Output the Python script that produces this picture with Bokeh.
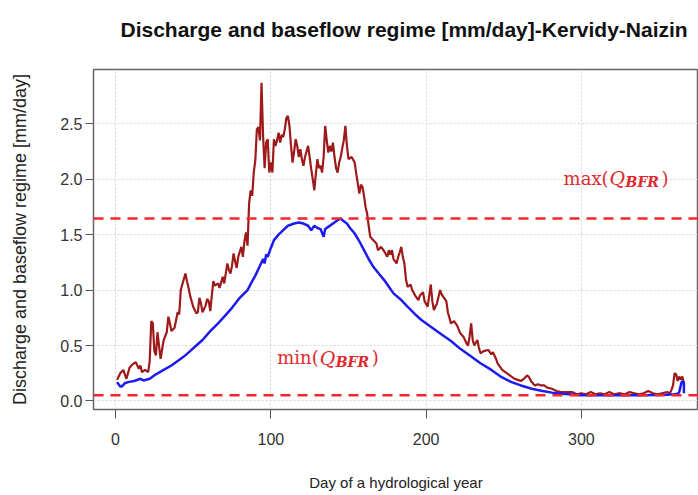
from bokeh.plotting import figure
from bokeh.models import Span, Label, FixedTicker, NumeralTickFormatter, Range1d, Title
from bokeh.embed import file_html
from bokeh.resources import INLINE

TITLE = "Discharge and baseflow regime [mm/day]-Kervidy-Naizin"
X_LABEL = "Day of a hydrological year"
Y_LABEL = "Discharge and baseflow regime [mm/day]"
X_TICKS = [0, 100, 200, 300]
Y_TICKS = [0.0, 0.5, 1.0, 1.5, 2.0, 2.5]

# Discharge regime (mm/day)
discharge_day = [1, 3, 5, 7, 9, 11, 13, 15, 16, 17, 19, 21, 22, 23, 24, 25, 26, 27, 28, 29,
                 31, 33, 34, 35, 36, 38, 40, 41, 42, 44, 45, 46, 47, 48, 50, 52, 53, 54, 55, 56,
                 58, 59, 60, 61, 62, 63, 64, 66, 67, 69, 70, 72, 73, 74, 75, 76, 77, 78, 79, 81,
                 82, 83, 84, 85, 86, 87, 88, 89, 90, 91, 92, 93, 94, 95, 96, 97, 98, 99, 100, 101,
                 102, 103, 104, 105, 106, 107, 108, 109, 110, 111, 112, 113, 114, 115, 116, 117, 118, 119, 120, 121,
                 122, 124, 125, 126, 127, 128, 129, 130, 131, 132, 133, 134, 135, 136, 137, 138, 139, 140, 141, 142,
                 143, 144, 145, 146, 147, 148, 149, 150, 152, 154, 155, 157, 158, 159, 160, 161, 162, 163, 164, 166,
                 168, 169, 171, 173, 175, 176, 177, 178, 179, 181, 182, 183, 184, 185, 186, 187, 188, 190, 191, 193,
                 195, 196, 198, 199, 201, 203, 204, 205, 207, 209, 210, 212, 213, 214, 216, 218, 220, 222, 224, 225,
                 226, 227, 228, 229, 230, 231, 233, 234, 235, 237, 240, 242, 243, 245, 246, 248, 249, 251, 253, 255,
                 257, 259, 261, 263, 265, 266, 268, 270, 272, 274, 276, 278, 281, 284, 287, 290, 294, 297, 300, 303,
                 306, 309, 312, 315, 318, 321, 325, 328, 331, 334, 337, 340, 343, 346, 349, 352, 355, 357, 358, 359,
                 360, 361, 362, 363, 364, 365, 366]
discharge_val = [0.19, 0.25, 0.28, 0.20, 0.30, 0.33, 0.35, 0.29, 0.32, 0.26, 0.28, 0.26, 0.36, 0.72, 0.70, 0.45, 0.41, 0.62, 0.50, 0.38,
                 0.55, 0.62, 0.76, 0.70, 0.63, 0.66, 0.80, 0.78, 1.00, 1.10, 1.15, 1.08, 1.02, 0.95, 0.85, 0.79, 0.80, 0.93, 0.88, 0.80,
                 0.86, 0.92, 0.90, 0.81, 0.95, 1.08, 1.04, 1.06, 1.02, 1.12, 1.06, 1.24, 1.18, 1.15, 1.22, 1.33, 1.26, 1.20, 1.30, 1.39,
                 1.30, 1.44, 1.52, 1.40, 1.78, 1.90, 1.85, 2.06, 2.17, 2.45, 2.47, 2.35, 2.87, 2.39, 2.10, 2.33, 2.36, 2.06, 2.15, 2.06,
                 2.36, 2.30, 2.35, 2.42, 2.33, 2.40, 2.38, 2.45, 2.55, 2.57, 2.48, 2.30, 2.15, 2.25, 2.36, 2.30, 2.20, 2.27, 2.18, 2.12,
                 2.20, 2.30, 2.20, 2.09, 2.00, 1.90, 2.05, 2.18, 2.10, 2.12, 2.06, 2.20, 2.48, 2.35, 2.24, 2.30, 2.25, 2.33, 2.20, 2.10,
                 2.06, 2.15, 2.20, 2.28, 2.35, 2.48, 2.30, 2.18, 2.20, 2.15, 2.05, 1.87, 1.95, 1.93, 1.85, 1.75, 1.69, 1.58, 1.48, 1.45,
                 1.42, 1.36, 1.39, 1.35, 1.30, 1.36, 1.32, 1.36, 1.28, 1.24, 1.30, 1.34, 1.39, 1.30, 1.24, 1.10, 1.03, 1.05, 1.00, 0.95,
                 0.91, 0.95, 0.98, 0.90, 0.85, 1.05, 0.90, 0.82, 0.88, 1.00, 0.96, 0.92, 0.90, 0.80, 0.70, 0.72, 0.68, 0.61, 0.58, 0.55,
                 0.52, 0.50, 0.58, 0.70, 0.55, 0.50, 0.55, 0.48, 0.43, 0.45, 0.46, 0.42, 0.44, 0.38, 0.34, 0.30, 0.28, 0.26, 0.24, 0.22,
                 0.20, 0.19, 0.18, 0.20, 0.23, 0.22, 0.17, 0.14, 0.15, 0.14, 0.14, 0.12, 0.11, 0.09, 0.08, 0.08, 0.08, 0.06, 0.07, 0.06,
                 0.08, 0.06, 0.07, 0.06, 0.08, 0.06, 0.07, 0.06, 0.08, 0.07, 0.06, 0.07, 0.09, 0.07, 0.06, 0.07, 0.08, 0.07, 0.10, 0.14,
                 0.25, 0.24, 0.18, 0.22, 0.19, 0.22, 0.15]

# Baseflow regime (mm/day)
baseflow_day = [1, 3, 4, 6, 8, 12, 16, 18, 22, 26, 31, 36, 40, 44, 48, 52, 56, 61, 66, 70,
                75, 80, 85, 88, 90, 93, 95, 96, 97, 98, 100, 102, 105, 108, 111, 115, 118, 121, 124, 126,
                128, 130, 132, 134, 135, 137, 140, 143, 145, 147, 149, 151, 154, 157, 160, 163, 166, 170, 173, 176,
                179, 184, 188, 193, 197, 203, 210, 216, 222, 229, 235, 242, 248, 255, 261, 268, 275, 281, 288, 294,
                300, 320, 340, 355, 360, 362, 363, 364.5, 366, 366]
baseflow_val = [0.17, 0.13, 0.13, 0.16, 0.17, 0.18, 0.20, 0.185, 0.20, 0.24, 0.28, 0.32, 0.36, 0.40, 0.45, 0.50, 0.55, 0.63, 0.70, 0.76,
                0.84, 0.93, 1.00, 1.08, 1.13, 1.22, 1.28, 1.24, 1.32, 1.30, 1.38, 1.45, 1.50, 1.54, 1.58, 1.60, 1.61, 1.60, 1.58, 1.54,
                1.58, 1.56, 1.55, 1.48, 1.55, 1.57, 1.60, 1.63, 1.645, 1.62, 1.60, 1.56, 1.51, 1.44, 1.36, 1.28, 1.21, 1.14, 1.09, 1.03,
                0.97, 0.91, 0.85, 0.78, 0.73, 0.67, 0.60, 0.54, 0.47, 0.40, 0.34, 0.28, 0.22, 0.17, 0.14, 0.11, 0.09, 0.075, 0.065, 0.058,
                0.052, 0.052, 0.052, 0.055, 0.06, 0.065, 0.08, 0.17, 0.17, 0.07]

QBFR_MAX = max(baseflow_val)
QBFR_MIN = min(baseflow_val)

# annotation anchors (day, value)
MAX_LABEL_AT = (317.5, 2.01)
MIN_LABEL_AT = (130.8, 0.39)

p = figure(width=698, height=495, output_backend="svg", toolbar_location=None,
           x_range=Range1d(-14.2, 375.4), y_range=Range1d(-0.077, 2.989),
           min_border_left=93, min_border_right=0, min_border_top=69, min_border_bottom=86)
p.background_fill_color = "white"
p.border_fill_color = "white"
p.outline_line_color = "#666666"
p.outline_line_width = 1.5

# spacer (nearest the frame) then the real title above it
p.add_layout(Title(text=" ", text_font_size="11px", standoff=0), "above")
p.add_layout(Title(text=TITLE, text_font="Liberation Sans", text_font_size="21px",
                   text_font_style="bold", text_color="#111111", align="left",
                   offset=27, standoff=30), "above")

for ax in (p.xaxis[0], p.yaxis[0]):
    ax.axis_line_color = None
    ax.major_tick_in = 0
    ax.minor_tick_line_color = None
    ax.major_tick_line_color = "#555555"
    ax.major_label_text_font = "Liberation Sans"
    ax.major_label_text_font_size = "16px"
    ax.major_label_text_color = "#333333"
    ax.axis_label_text_font = "Liberation Sans"
    ax.axis_label_text_font_style = "normal"
    ax.axis_label_text_color = "#222222"

p.xaxis.ticker = FixedTicker(ticks=X_TICKS)
p.yaxis.ticker = FixedTicker(ticks=Y_TICKS)
p.yaxis.formatter = NumeralTickFormatter(format="0.0")
p.xaxis.major_tick_out = 9
p.yaxis.major_tick_out = 8
p.xaxis.major_label_standoff = 14
p.yaxis.major_label_standoff = 3
p.xaxis.axis_label = X_LABEL
p.yaxis.axis_label = Y_LABEL
p.xaxis.axis_label_text_font_size = "15px"
p.yaxis.axis_label_text_font_size = "18px"
p.xaxis.axis_label_standoff = 26
p.yaxis.axis_label_standoff = 27

p.grid.grid_line_color = "#d4d4d4"
p.grid.grid_line_dash = "2 2"
p.grid.grid_line_width = 1

p.line(discharge_day, discharge_val, line_color="#9e1a1a", line_width=2.2)
p.line(baseflow_day, baseflow_val, line_color="#1c1cf0", line_width=2.5)

for loc in (QBFR_MAX, QBFR_MIN):
    p.add_layout(Span(location=loc, dimension="width", line_color="#f0282d",
                      line_width=2.5, line_dash="10 7"))

RED = "#e0282c"
def add_q_label(anchor, fn):
    x, y = anchor
    p.add_layout(Label(x=x, y=y, text=fn + "(", text_align="right", text_baseline="alphabetic",
                       text_font="DejaVu Serif", text_font_size="18px", text_color=RED))
    p.add_layout(Label(x=x, y=y, text="Q", text_align="left", text_baseline="alphabetic",
                       text_font="DejaVu Serif", text_font_style="italic", text_font_size="19px",
                       text_color=RED, x_offset=1))
    p.add_layout(Label(x=x, y=y, text="BFR", text_align="left", text_baseline="alphabetic",
                       text_font="DejaVu Serif", text_font_style="bold italic", text_font_size="14px",
                       text_color=RED, x_offset=17, y_offset=-4))
    p.add_layout(Label(x=x, y=y, text=")", text_align="left", text_baseline="alphabetic",
                       text_font="DejaVu Serif", text_font_size="18px", text_color=RED, x_offset=53))

add_q_label(MAX_LABEL_AT, "max")
add_q_label(MIN_LABEL_AT, "min")

open("out.html", "w").write(file_html(p, INLINE))
